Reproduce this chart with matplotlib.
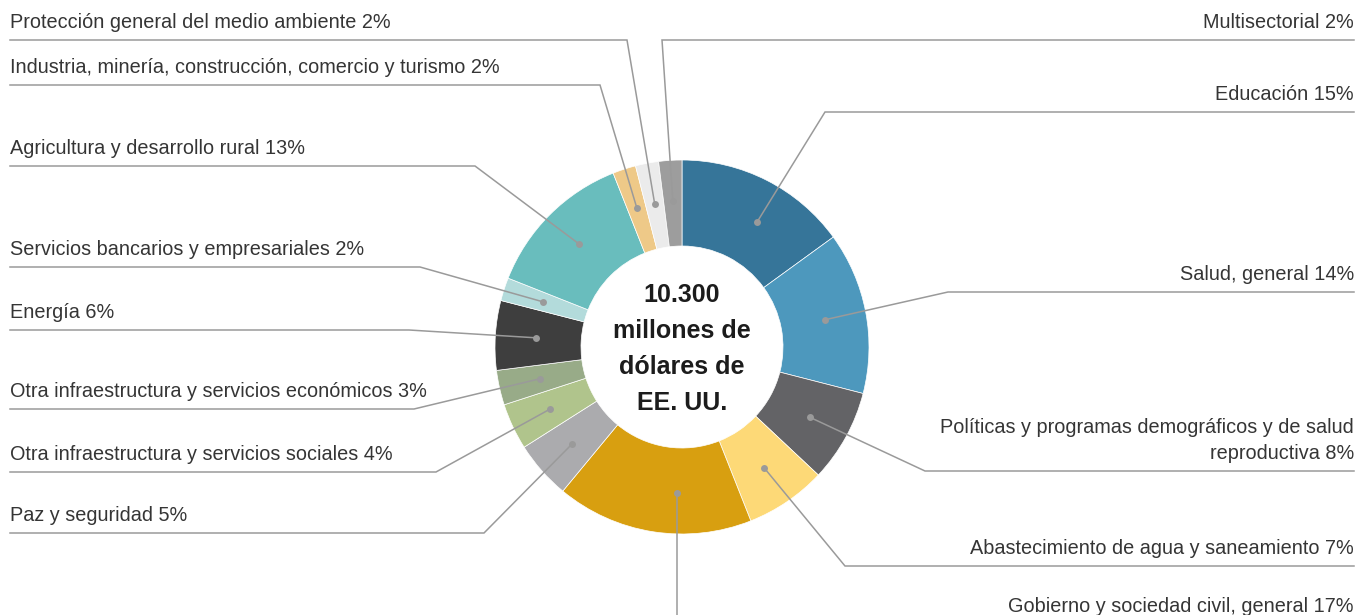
import numpy as np
import matplotlib
matplotlib.use("Agg")
import matplotlib.pyplot as plt

# sectors, clockwise from 12 o'clock
sectors = ["Educación", "Salud, general",
           "Políticas y programas demográficos y de salud\nreproductiva",
           "Abastecimiento de agua y saneamiento",
           "Gobierno y sociedad civil, general", "Paz y seguridad",
           "Otra infraestructura y servicios sociales",
           "Otra infraestructura y servicios económicos", "Energía",
           "Servicios bancarios y empresariales", "Agricultura y desarrollo rural",
           "Industria, minería, construcción, comercio y turismo",
           "Protección general del medio ambiente", "Multisectorial"]
shares = [15, 14, 8, 7, 17, 5, 4, 3, 6, 2, 13, 2, 2, 2]
colors = ["#367599", "#4d98bd", "#636366", "#fdd977", "#d89f10", "#ababae",
          "#b0c48c", "#98ab88", "#3e3e3e", "#b3dbdb", "#69bdbd", "#eec988",
          "#ebebeb", "#9d9d9d"]
center_text = "10.300\nmillones de\ndólares de\nEE. UU."

# label layout (pixel coords, y from top): side, underline y, elbow x, dot nudge (deg)
side = ["R", "R", "R", "R", "R", "L", "L", "L", "L", "L", "L", "L", "L", "R"]
under_y = [112, 292, 471, 566, 624, 533, 472, 409, 330, 267, 166, 85, 40, 40]
elbow_x = [825, 948, 925, 845, None, 484, 436, 414, 409, 420, 475, 600, 627, 662]
dot_nudge = [4, 0, 0, 0, -7.2, 0, 0, 0, 0, 0, 0, 0, 0, 0]

W, H = 1369, 615
cx, cy = 682, 347
R_out, R_in = 187, 101

fig = plt.figure(figsize=(W / 100, H / 100), dpi=100)
ax = fig.add_axes([0, 0, 1, 1])

ax.pie(shares, colors=colors, startangle=90, counterclock=False,
       radius=R_out, center=(cx, H - cy),
       wedgeprops=dict(width=R_out - R_in, edgecolor="white", linewidth=0.5))

ax.text(cx, H - cy - 2, center_text, ha="center", va="center", fontsize=18,
        fontweight="bold", family="Liberation Sans", color="#1c1c1c",
        linespacing=1.62)

line_c = "#9a9a9a"
cum = np.cumsum([0] + shares[:-1])
r_dot = (R_out + R_in) / 2 + 2
for i, name in enumerate(sectors):
    ang = np.deg2rad((cum[i] + shares[i] / 2) * 3.6 + dot_nudge[i])
    dx = cx + r_dot * np.sin(ang)
    dy = H - (cy - r_dot * np.cos(ang))
    uy = H - under_y[i]
    ex = elbow_x[i] if elbow_x[i] is not None else dx
    if side[i] == "L":
        xs = [10, ex, dx]
        tx, ha = 10, "left"
    else:
        xs = [1354, ex, dx]
        tx, ha = 1354, "right"
    ax.plot(xs, [uy, uy, dy], color=line_c, lw=1.1, solid_joinstyle="miter")
    ax.plot(dx, dy, "o", color=line_c, ms=5, mec="none")
    ax.text(tx, uy + 12, f"{name} {shares[i]}%", ha=ha, va="baseline",
            multialignment=ha, fontsize=14.3, color="#353535",
            family="Liberation Sans", linespacing=1.45)

ax.set_xlim(0, W)
ax.set_ylim(0, H)
ax.set_aspect("auto")
ax.axis("off")
fig.savefig("out.png", dpi=100)
